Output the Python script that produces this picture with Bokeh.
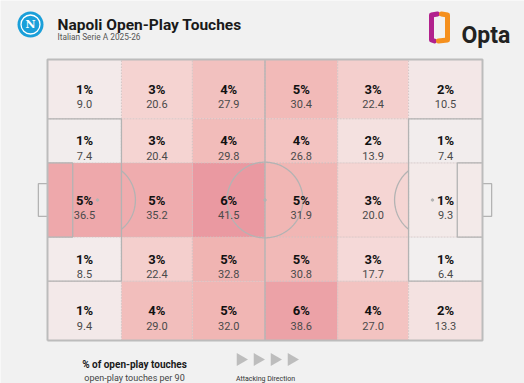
import numpy as np
from bokeh.plotting import figure
from bokeh.models import Range1d
from bokeh.core.properties import value
from bokeh.embed import file_html
from bokeh.resources import INLINE

# ---------------- data ----------------
title = "Napoli Open-Play Touches"
subtitle = "Italian Serie A 2025-26"
x_bins = [0, 17, 33.3, 50, 66.7, 83, 100]          # Opta pitch zone edges (length)
y_bins = [100, 78.9, 63.2, 36.8, 21.1, 0]           # Opta pitch zone edges (width), top -> bottom
touches_row1 = [9.0, 20.6, 27.9, 30.4, 22.4, 10.5]
touches_row2 = [7.4, 20.4, 29.8, 26.8, 13.9, 7.4]
touches_row3 = [36.5, 35.2, 41.5, 31.9, 20.0, 9.3]
touches_row4 = [8.5, 22.4, 32.8, 30.8, 17.7, 6.4]
touches_row5 = [9.4, 29.0, 32.0, 38.6, 27.0, 13.3]
pct_row1 = [1, 3, 4, 5, 3, 2]
pct_row2 = [1, 3, 4, 4, 2, 1]
pct_row3 = [5, 5, 6, 5, 3, 1]
pct_row4 = [1, 3, 5, 5, 3, 1]
pct_row5 = [1, 4, 5, 6, 4, 2]
touch_rows = [touches_row1, touches_row2, touches_row3, touches_row4, touches_row5]
pct_rows = [pct_row1, pct_row2, pct_row3, pct_row4, pct_row5]

# ---------------- layout helpers ----------------
W, H = 524, 383
SX, SY = 4.35, 2.81          # px per pitch unit
PL, PT = 47, 59              # pitch left/top inside figure (px)
BG = "#f1f1f1"
FONT = value("Roboto")

def X(page_x):
    return (page_x - PL) / SX

def Y(page_y):
    return (PT + 100 * SY - page_y) / SY

p = figure(width=W, height=H, output_backend="svg", toolbar_location=None,
           x_range=Range1d(-PL / SX, 100 + (W - PL - 100 * SX) / SX),
           y_range=Range1d(-(H - PT - 100 * SY) / SY, 100 + PT / SY),
           min_border=0)
p.axis.visible = False
p.grid.visible = False
p.outline_line_color = None
p.background_fill_color = BG
p.border_fill_color = BG

# ---------------- heat cells ----------------
stops_v = [6, 20, 32, 41.5]
stops_r = [242, 245, 241, 234]
stops_g = [240, 213, 182, 153]
stops_b = [240, 211, 180, 161]

def cmap(v):
    r = int(round(np.interp(v, stops_v, stops_r)))
    g = int(round(np.interp(v, stops_v, stops_g)))
    b = int(round(np.interp(v, stops_v, stops_b)))
    return "#%02x%02x%02x" % (r, g, b)

L, R, B, T, C, CX, CY, PCT, VAL = [], [], [], [], [], [], [], [], []
for ri, (trow, prow) in enumerate(zip(touch_rows, pct_rows)):
    for ci, (v, pc) in enumerate(zip(trow, prow)):
        l, r = x_bins[ci], x_bins[ci + 1]
        t, b = y_bins[ri], y_bins[ri + 1]
        L.append(l); R.append(r); B.append(b); T.append(t)
        C.append(cmap(v))
        CX.append((l + r) / 2); CY.append((t + b) / 2)
        PCT.append(f"{pc}%"); VAL.append(f"{v:.1f}")

p.quad(left=L, right=R, bottom=B, top=T, fill_color=C, line_color=None)
p.quad(left=L, right=R, bottom=B, top=T, fill_color=None,
       line_color="#cfc3c3", line_width=0.8, line_dash="1 2")

# ---------------- pitch markings ----------------
LC = "#b3b3b3"
LW = 1.3
p.line([50, 50], [0, 100], line_color=LC, line_width=LW)
p.line([0, 17, 17, 0], [21.1, 21.1, 78.9, 78.9], line_color=LC, line_width=LW)
p.line([100, 83, 83, 100], [21.1, 21.1, 78.9, 78.9], line_color=LC, line_width=LW)
p.line([0, 5.8, 5.8, 0], [36.8, 36.8, 63.2, 63.2], line_color=LC, line_width=LW)
p.line([100, 94.2, 94.2, 100], [36.8, 36.8, 63.2, 63.2], line_color=LC, line_width=LW)
p.line([0, -2.1, -2.1, 0], [44.2, 44.2, 55.8, 55.8], line_color=LC, line_width=LW)
p.line([100, 102.1, 102.1, 100], [44.2, 44.2, 55.8, 55.8], line_color=LC, line_width=LW)
rx, ry = 8.71, 13.46
th = np.linspace(0, 2 * np.pi, 200)
p.line(50 + rx * np.cos(th), 50 + ry * np.sin(th), line_color=LC, line_width=LW)
a = np.arccos((17 - 11.5) / rx)
th2 = np.linspace(-a, a, 60)
p.line(11.5 + rx * np.cos(th2), 50 + ry * np.sin(th2), line_color=LC, line_width=LW)
p.line(88.5 - rx * np.cos(th2), 50 + ry * np.sin(th2), line_color=LC, line_width=LW)
p.scatter([11.5, 50, 88.5], [50, 50, 50], size=2.5, color=LC)
p.line([0, 100, 100, 0, 0], [0, 0, 100, 100, 0], line_color="#bcbcbc", line_width=2)

# ---------------- cell labels ----------------
p.text(CX, CY, text=PCT, text_font=FONT, text_font_size="13px", text_font_style="bold",
       text_align="center", text_baseline="alphabetic", text_color="#111111", y_offset=0)
p.text(CX, CY, text=VAL, text_font=FONT, text_font_size="11px",
       text_align="center", text_baseline="alphabetic", text_color="#4a4a4a", y_offset=15)

# ---------------- header ----------------
p.scatter([X(30)], [Y(24)], size=26, fill_color="#1a9fd9", line_color=None)
p.scatter([X(30)], [Y(24)], size=19, fill_color=None, line_color="white", line_width=1.3)
p.text([X(30)], [Y(24)], text=["N"], text_font=value("DejaVu Serif"), text_font_size="11px",
       text_font_style="bold", text_color="white", text_align="center", text_baseline="middle")
p.text([X(57)], [Y(24.5)], text=[title], text_font=FONT, text_font_size="15.5px",
       text_font_style="bold", text_color="#1a1a1a", text_align="left", text_baseline="alphabetic")
p.text([X(57)], [Y(36)], text=[subtitle], text_font=FONT, text_font_size="8.3px",
       text_color="#555555", text_align="left", text_baseline="alphabetic")

# Opta logo
p.line([X(437), X(431), X(431), X(434)], [Y(13.5), Y(14.5), Y(39.5), Y(40.5)],
       line_color="#b1218d", line_width=5, line_join="round", line_cap="round")
p.line([X(441), X(447), X(447), X(438)], [Y(13.5), Y(14.5), Y(39.5), Y(40.5)],
       line_color="#f5901e", line_width=5, line_join="round", line_cap="round")
p.text([X(461)], [Y(35)], text=["Opta"], text_font=FONT, text_font_size="23px",
       text_font_style="bold", text_color="#222222", text_align="left", text_baseline="alphabetic")

# ---------------- footer ----------------
p.text([X(134)], [Y(363.5)], text=["% of open-play touches"], text_font=FONT,
       text_font_size="10px", text_font_style="bold", text_color="#1a1a1a",
       text_align="center", text_baseline="alphabetic")
p.text([X(134)], [Y(377.5)], text=["open-play touches per 90"], text_font=FONT,
       text_font_size="9px", text_color="#444444", text_align="center", text_baseline="alphabetic")
arrow_x = [240, 257, 274, 291]
p.scatter([X(v) for v in arrow_x], [Y(359)] * 4, marker="triangle", size=13,
          angle=-np.pi / 2, fill_color="#bdbdbd", line_color=None)
p.text([X(265)], [Y(378)], text=["Attacking Direction"], text_font=FONT,
       text_font_size="7px", text_color="#333333", text_align="center", text_baseline="alphabetic")

open("out.html", "w").write(file_html(p, INLINE))
